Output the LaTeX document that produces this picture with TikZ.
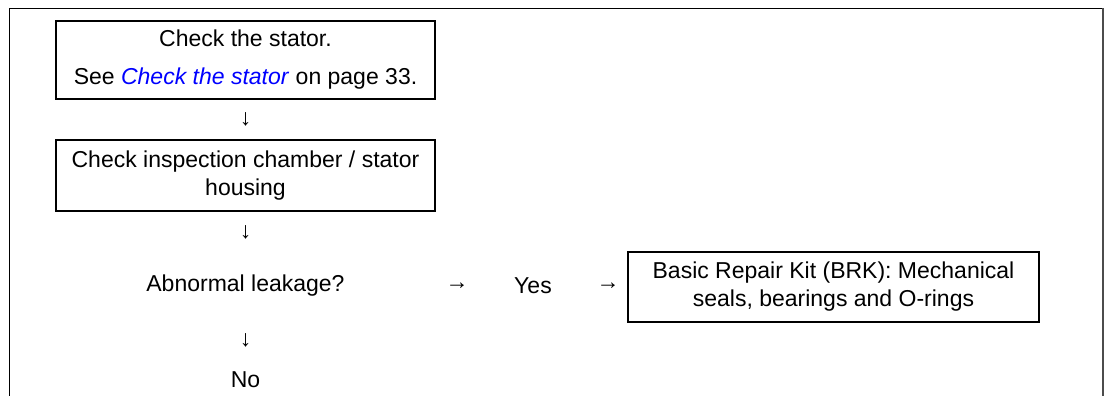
\documentclass[tikz,border=0pt]{standalone}
\usepackage{fontspec}
\setmainfont{Liberation Sans}
\begin{document}
\begin{tikzpicture}[x=0.5pt,y=-0.5pt,
  font=\fontsize{11.5}{14}\selectfont,
  stepbox/.style={draw, line width=0.6pt, inner sep=0pt, align=center},
  plain/.style={inner sep=0pt, align=center},
  frameline/.style={line width=0.6pt}]
\useasboundingbox (0,0) rectangle (1105,396);
% frame
\draw[frameline] (9.5,396) -- (9.5,8.5) -- (1103,8.5);
\draw[line width=1pt, black!70] (1103,8) -- (1103,396);
% boxes
\node[stepbox, minimum width=189.5pt, minimum height=39pt] (b1) at (245.5,60)
  {Check the stator.\\[5pt] See \textcolor{blue}{\textit{Check the stator}} on page 33.};
\node[plain] (a1) at (245.5,119) {↓};
\node[stepbox, minimum width=189.5pt, minimum height=35.5pt] (b2) at (245.5,175.5)
  {Check inspection chamber / stator\\housing};
\node[plain] (a2) at (245.5,232) {↓};
\node[plain] (q) at (245.5,286) {Abnormal leakage?};
\node[plain] (a3) at (457,286) {→};
\node[plain] (yes) at (533,286) {Yes};
\node[plain] (a4) at (608,286) {→};
\node[stepbox, minimum width=205.5pt, minimum height=35pt] (b3) at (833.5,287)
  {Basic Repair Kit (BRK): Mechanical\\seals, bearings and O-rings};
\node[plain] (a5) at (245.5,340) {↓};
\node[plain] (no) at (245.5,380) {No};
\end{tikzpicture}
\end{document}
